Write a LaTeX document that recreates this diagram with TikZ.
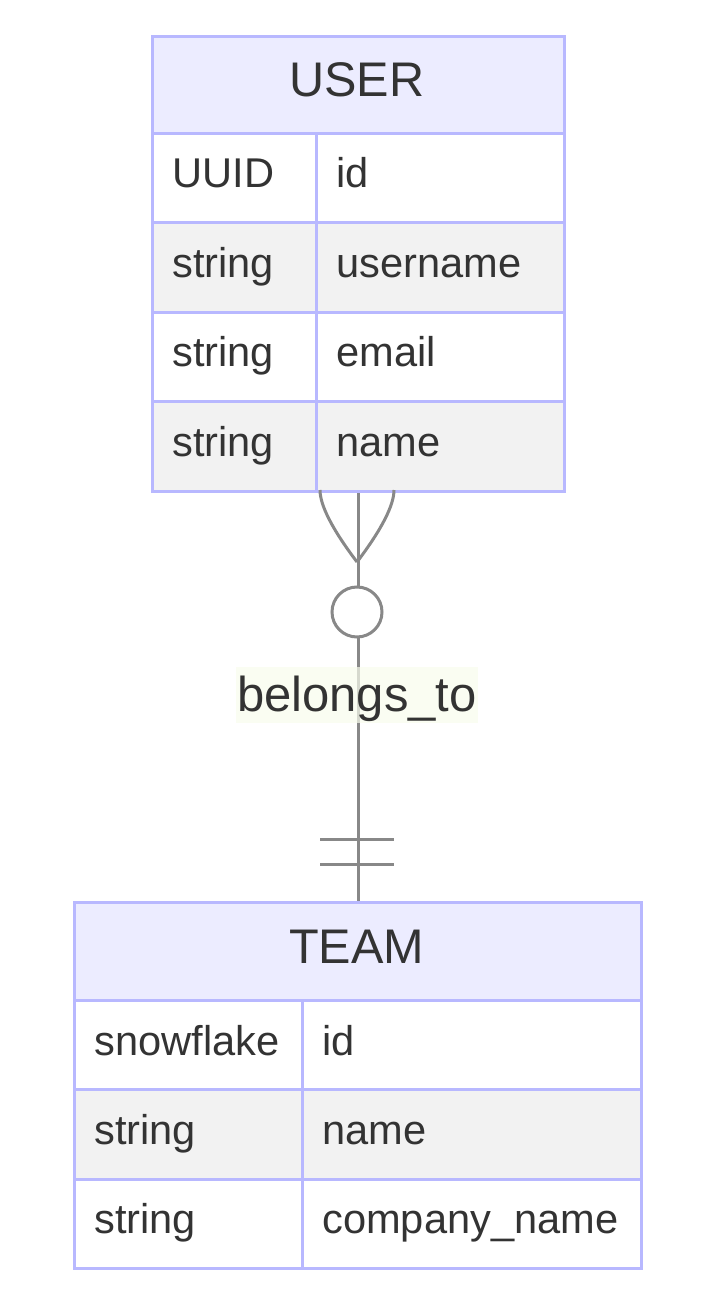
\documentclass[tikz,border=0pt]{standalone}
\usepackage{fontspec}
\setmainfont{Liberation Sans}
\definecolor{bord}{RGB}{184,184,255}
\definecolor{hdrfill}{RGB}{236,236,255}
\definecolor{roweven}{RGB}{242,242,242}
\definecolor{txt}{RGB}{51,51,51}
\definecolor{edgec}{RGB}{136,136,136}
\definecolor{lblbg}{RGB}{248,252,236}
\begin{document}
\begin{tikzpicture}[x=0.5pt,y=-0.5pt,
  cell/.style={draw=bord, line width=1.5pt, inner sep=0pt, anchor=north west},
  frame/.style={draw=bord, line width=1.5pt, inner sep=0pt, anchor=north west},
  hdrtext/.style={text=txt, font=\fontsize{24.3}{29}\selectfont, anchor=base, inner sep=0pt},
  attrtext/.style={text=txt, font=\fontsize{20.8}{25}\selectfont, anchor=base west, inner sep=0pt},
  rel/.style={draw=edgec, line width=1.5pt},
  lbltext/.style={text=txt, font=\fontsize{24.5}{29}\selectfont, anchor=base, inner sep=0pt}]
\useasboundingbox (0,0) rectangle (715,1304);

% ---------- USER entity ----------
\node[cell, fill=hdrfill, minimum width=206pt, minimum height=48.5pt] (uh) at (151,35) {};
\node[cell, fill=white, minimum width=82pt, minimum height=44.75pt] (u1a) at (151,132) {};
\node[cell, fill=white, minimum width=124pt, minimum height=44.75pt] (u1b) at (315,132) {};
\node[cell, fill=roweven, minimum width=82pt, minimum height=44.75pt] (u2a) at (151,221.5) {};
\node[cell, fill=roweven, minimum width=124pt, minimum height=44.75pt] (u2b) at (315,221.5) {};
\node[cell, fill=white, minimum width=82pt, minimum height=44.75pt] (u3a) at (151,311) {};
\node[cell, fill=white, minimum width=124pt, minimum height=44.75pt] (u3b) at (315,311) {};
\node[cell, fill=roweven, minimum width=82pt, minimum height=44.75pt] (u4a) at (151,400.5) {};
\node[cell, fill=roweven, minimum width=124pt, minimum height=44.75pt] (u4b) at (315,400.5) {};
\node[frame, minimum width=206pt, minimum height=227.5pt] (user) at (151,35) {};

\node[hdrtext] (uht) at (357,97) {USER};
\node[attrtext] (t1a) at (172,188) {UUID};
\node[attrtext] (t1b) at (336,188) {id};
\node[attrtext] (t2a) at (172,277.5) {string};
\node[attrtext] (t2b) at (336,277.5) {username};
\node[attrtext] (t3a) at (172,367) {string};
\node[attrtext] (t3b) at (336,367) {email};
\node[attrtext] (t4a) at (172,456.5) {string};
\node[attrtext] (t4b) at (336,456.5) {name};

% ---------- TEAM entity ----------
\node[cell, fill=hdrfill, minimum width=283.5pt, minimum height=49pt] (th) at (73,901) {};
\node[cell, fill=white, minimum width=114pt, minimum height=44.67pt] (v1a) at (73,999) {};
\node[cell, fill=white, minimum width=169.5pt, minimum height=44.67pt] (v1b) at (301,999) {};
\node[cell, fill=roweven, minimum width=114pt, minimum height=44.67pt] (v2a) at (73,1088.33) {};
\node[cell, fill=roweven, minimum width=169.5pt, minimum height=44.67pt] (v2b) at (301,1088.33) {};
\node[cell, fill=white, minimum width=114pt, minimum height=44.67pt] (v3a) at (73,1177.67) {};
\node[cell, fill=white, minimum width=169.5pt, minimum height=44.67pt] (v3b) at (301,1177.67) {};
\node[frame, minimum width=283.5pt, minimum height=183pt] (team) at (73,901) {};

\node[hdrtext] (tht) at (356.5,963) {TEAM};
\node[attrtext] (s1a) at (94,1055) {snowflake};
\node[attrtext] (s1b) at (322,1055) {id};
\node[attrtext] (s2a) at (94,1144.33) {string};
\node[attrtext] (s2b) at (322,1144.33) {name};
\node[attrtext] (s3a) at (94,1233.67) {string};
\node[attrtext] (s3b) at (322,1233.67) {company\_name};

% ---------- relationship ----------
\coordinate (ubot) at (user.south);
\coordinate (ttop) at (ubot |- team.north);
\draw[rel] (ubot) -- (ttop);
% crow's foot (many) at USER
\coordinate (fl) at (320,490);
\coordinate (fr) at (394,490);
\coordinate (fm) at (357,562);
\draw[rel] (fl) .. controls (320,505) and (332,529) .. (fm);
\draw[rel] (fr) .. controls (394,505) and (382,529) .. (fm);
% zero circle
\node[circle, draw=edgec, fill=white, line width=1.5pt, minimum size=25pt, inner sep=0pt] (zero) at (357,612) {};
% label
\fill[lblbg, fill opacity=0.7] (236,667) rectangle (478,723);
\node[lbltext] (lbl) at (357,711) {belongs\_to};
% one-and-only-one bars at TEAM
\coordinate (b1l) at (320,839);
\coordinate (b1r) at (394,839);
\coordinate (b2l) at (320,864);
\coordinate (b2r) at (394,864);
\draw[rel] (b1l) -- (b1r);
\draw[rel] (b2l) -- (b2r);
\end{tikzpicture}
\end{document}
